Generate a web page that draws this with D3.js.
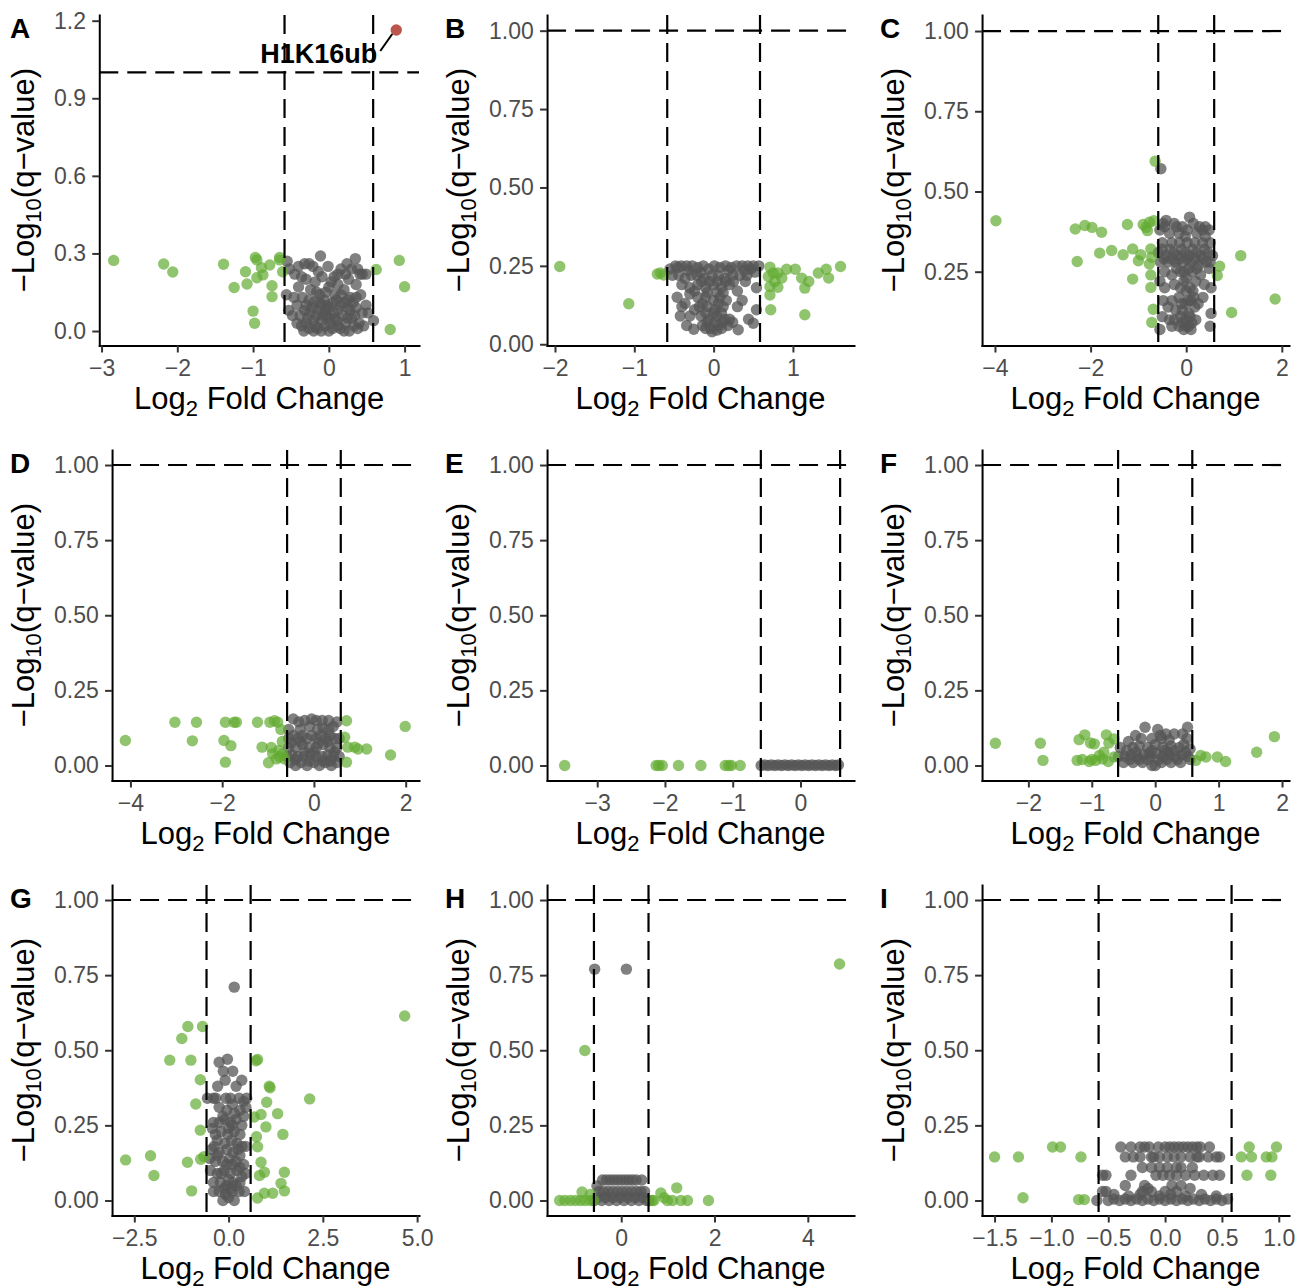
<!DOCTYPE html>
<html>
<head>
<meta charset="utf-8">
<script src="https://cdn.jsdelivr.net/npm/d3@7"></script>
<style>
body { margin: 0; background: #fff; }
svg { display: block; font-family: "Liberation Sans", Arial, Helvetica, sans-serif; }
</style>
</head>
<body>
<svg id="fig" width="1307" height="1287"></svg>
<script>
// threshold lines: |log2 FC| = log2(1.5), -log10(q) = 1
const fcCut = Math.log2(1.5)
const qCut = 1

// ---- panel A ----
const A_ns = [[-0.11,0.29],[0.35,0.28],[-0.55,0.27],[-0.32,0.26],[-0.26,0.26],[-0.21,0.25],[-0.01,0.25],[0.16,0.24],[0.22,0.22],[0.30,0.24],[0.41,0.22],[0.49,0.22],[0.44,0.22],[-0.52,0.24],[-0.45,0.22],[-0.09,0.21],[0.07,0.21],[0.26,0.20],[-0.30,0.20],[-0.18,0.19],[0.12,0.18],[0.36,0.18],[-0.40,0.17],[-0.24,0.16],[0.00,0.17],[0.20,0.16],[0.42,0.14],[-0.56,0.14],[-0.46,0.13],[-0.35,0.13],[-0.12,0.14],[0.08,0.14],[0.28,0.13],[0.49,0.10],[-0.53,0.08],[-0.42,0.10],[-0.30,0.10],[-0.20,0.11],[-0.06,0.12],[0.05,0.11],[0.15,0.10],[0.25,0.09],[0.36,0.09],[0.44,0.07],[-0.38,0.06],[-0.25,0.07],[-0.14,0.08],[-0.04,0.08],[0.06,0.07],[0.18,0.06],[0.30,0.05],[0.40,0.03],[0.59,0.04],[-0.30,0.03],[-0.20,0.04],[-0.10,0.04],[0.00,0.05],[0.10,0.04],[0.22,0.03],[0.33,0.02],[-0.26,0.01],[-0.15,0.01],[-0.05,0.02],[0.05,0.01],[0.15,0.01],[0.27,0.00],[-0.10,0.00],[0.00,0.00],[0.20,0.00],[-0.20,0.00],[0.38,0.01],[-0.33,0.00],[-0.16,0.06],[0.12,0.08],[-0.02,0.10],[0.25,0.12],
	[-0.36,0.02],[-0.28,0.05],[-0.18,0.02],[-0.08,0.06],[0.02,0.03],[0.12,0.02],[0.24,0.05],[0.34,0.06],[-0.32,0.08],[-0.22,0.09],[-0.10,0.10],[0.00,0.09],[0.10,0.12],[0.20,0.11],[0.32,0.11],[-0.26,0.12],[-0.16,0.15],[-0.04,0.15],[0.16,0.14],[0.36,0.13],[-0.42,0.03],[0.46,0.02],[-0.48,0.06],[0.52,0.07],[0.03,0.19],[-0.36,0.21],[0.12,0.22],[-0.14,0.23],[0.38,0.24],[-0.40,0.25],[0.24,0.26],[-0.03,0.06],[0.08,0.05],[-0.12,0.11],[0.28,0.08]]
const A_fc = [[-2.84,0.273],[-2.18,0.259],[-2.06,0.228],[-1.39,0.258],[-1.25,0.168],[-1.10,0.229],[-1.08,0.182],[-0.97,0.284],[-0.95,0.275],[-0.95,0.206],[-1.00,0.077],[-0.98,0.030],[-0.89,0.245],[-0.87,0.217],[-0.78,0.255],[-0.75,0.175],[-0.75,0.133],[-0.65,0.284],[-0.61,0.229],[-0.65,0.275],[0.625,0.238],[0.93,0.273],[1.00,0.171],[0.81,0.006]]
const A_hit = [[0.89,1.164]]
const A_hitNames = ["H1K16ub"]

// ---- panel B ----
const B_ns = [[-0.55,0.24],[-0.48,0.25],[-0.41,0.25],[-0.34,0.25],[-0.27,0.25],[-0.20,0.245],[-0.13,0.25],[-0.06,0.24],[0.01,0.25],[0.08,0.245],[0.15,0.25],[0.22,0.245],[0.29,0.25],[0.36,0.25],[0.43,0.25],[0.50,0.25],[0.57,0.25],[-0.52,0.22],[-0.44,0.22],[-0.36,0.21],[-0.28,0.22],[-0.21,0.22],[-0.12,0.21],[-0.02,0.22],[0.06,0.22],[0.14,0.21],[0.24,0.22],[0.33,0.22],[0.42,0.22],[0.52,0.23],[-0.40,0.19],[-0.30,0.18],[-0.20,0.19],[-0.10,0.18],[0.00,0.19],[0.10,0.18],[0.20,0.19],[0.30,0.17],[0.54,0.18],[-0.30,0.16],[-0.24,0.17],[-0.46,0.15],[-0.20,0.15],[-0.10,0.15],[0.00,0.14],[0.08,0.15],[0.16,0.14],[0.36,0.14],[-0.40,0.12],[-0.18,0.12],[-0.08,0.12],[0.02,0.11],[0.12,0.12],[0.30,0.12],[0.54,0.11],[-0.42,0.09],[-0.30,0.09],[-0.16,0.09],[-0.06,0.08],[0.04,0.09],[0.14,0.08],[0.24,0.07],[0.44,0.08],[-0.34,0.06],[-0.14,0.06],[-0.04,0.05],[0.06,0.06],[0.18,0.06],[0.50,0.067],[-0.25,0.048],[0.04,0.045],[0.31,0.046],[-0.02,0.04],
	[-0.45,0.245],[0.47,0.24],[0.39,0.235],[-0.16,0.23],[0.19,0.235],[-0.32,0.235],[0.05,0.20],[-0.05,0.20],[0.15,0.20],[-0.15,0.20],[0.25,0.20],[0.40,0.20],[-0.08,0.165],[0.04,0.165],[0.12,0.165],[-0.14,0.13],[0.06,0.13],[-0.10,0.10],[0.00,0.10],[0.10,0.10],[-0.08,0.07],[0.02,0.07],[0.12,0.07],[-0.10,0.05],[0.10,0.05],[0.20,0.08],[-0.24,0.11],[-0.36,0.13]]
const B_fc = [[-1.94,0.248],[-1.07,0.129],[-0.71,0.224],[-0.67,0.227],[-0.63,0.221],[0.71,0.246],[0.75,0.227],[0.71,0.184],[0.71,0.157],[0.72,0.110],[0.81,0.227],[0.86,0.211],[0.81,0.182],[0.92,0.239],[1.03,0.239],[1.11,0.211],[1.20,0.200],[1.15,0.179],[1.32,0.227],[1.42,0.239],[1.45,0.211],[1.60,0.248],[1.15,0.094],[0.69,0.216],[0.77,0.200]]

// ---- panel C ----
const C_ns = [[-0.53,0.571],[-0.42,0.41],[-0.25,0.40],[-0.08,0.39],[0.07,0.42],[0.15,0.40],[0.28,0.39],[0.40,0.39],[0.48,0.38],[-0.55,0.38],[-0.48,0.40],[-0.35,0.37],[-0.15,0.37],[0.02,0.38],[0.22,0.37],[0.34,0.38],[-0.02,0.36],[-0.58,0.31],[-0.50,0.32],[-0.42,0.30],[-0.34,0.32],[-0.26,0.31],[-0.18,0.30],[-0.10,0.32],[-0.02,0.31],[0.06,0.30],[0.14,0.32],[0.22,0.31],[0.30,0.30],[0.38,0.32],[0.46,0.31],[0.55,0.30],[-0.54,0.28],[-0.38,0.28],[-0.22,0.28],[-0.06,0.28],[0.10,0.28],[0.26,0.27],[0.42,0.28],[-0.45,0.25],[-0.30,0.24],[-0.12,0.25],[0.00,0.23],[0.12,0.25],[0.30,0.24],[0.48,0.26],[-0.45,0.20],[-0.25,0.21],[-0.05,0.22],[0.08,0.20],[0.20,0.22],[0.38,0.21],[0.52,0.20],[-0.55,0.22],[-0.48,0.16],[-0.30,0.16],[-0.15,0.17],[-0.02,0.15],[0.10,0.16],[0.25,0.15],[0.35,0.17],[-0.38,0.14],[-0.22,0.13],[-0.08,0.13],[0.05,0.12],[0.18,0.14],[0.52,0.12],[-0.50,0.11],[-0.55,0.07],[-0.30,0.08],[-0.15,0.08],[-0.05,0.07],[0.05,0.08],[0.12,0.09],[0.50,0.08],[-0.35,0.10],[-0.02,0.10],[0.20,0.10],
	[-0.50,0.34],[-0.30,0.34],[-0.14,0.34],[0.02,0.34],[0.18,0.34],[0.34,0.34],[0.50,0.34],[-0.46,0.29],[-0.30,0.29],[-0.14,0.29],[0.02,0.29],[0.18,0.29],[0.34,0.29],[0.50,0.28],[-0.20,0.26],[-0.05,0.25],[0.05,0.26],[0.22,0.26],[-0.12,0.20],[0.00,0.19],[0.14,0.19],[-0.10,0.15],[0.04,0.16],[0.16,0.17],[-0.12,0.11],[0.08,0.11],[-0.25,0.10],[0.00,0.08],[-0.08,0.09],[0.10,0.07],[-0.45,0.39],[0.40,0.36],[-0.20,0.39]]
const C_fc = [[-3.98,0.409],[-2.32,0.383],[-2.12,0.394],[-1.97,0.388],[-1.77,0.373],[-2.28,0.282],[-1.81,0.308],[-1.56,0.316],[-1.32,0.303],[-1.23,0.397],[-1.12,0.321],[-1.00,0.284],[-1.12,0.227],[-0.95,0.303],[-0.90,0.397],[-0.84,0.388],[-0.77,0.404],[-0.68,0.409],[-0.81,0.378],[-0.74,0.321],[-0.72,0.295],[-0.77,0.274],[-0.74,0.240],[-0.74,0.201],[-0.69,0.133],[-0.72,0.092],[-0.65,0.594],[0.70,0.267],[0.65,0.238],[1.14,0.300],[0.95,0.123],[1.86,0.165]]

// ---- panel D ----
const D_ns = [[-0.45,0.155],[-0.33,0.145],[-0.20,0.15],[-0.05,0.155],[0.05,0.15],[0.18,0.15],[0.32,0.15],[0.50,0.145],[-0.10,0.13],[0.20,0.125],[0.42,0.13],[-0.55,0.09],[-0.45,0.10],[-0.35,0.09],[-0.25,0.10],[-0.15,0.09],[-0.05,0.10],[0.05,0.09],[0.15,0.10],[0.25,0.09],[0.35,0.10],[0.45,0.09],[0.55,0.09],[-0.55,0.06],[-0.40,0.06],[-0.25,0.07],[-0.10,0.06],[0.05,0.06],[0.20,0.07],[0.35,0.06],[0.50,0.06],[-0.58,0.03],[-0.48,0.035],[-0.35,0.03],[-0.22,0.03],[-0.08,0.035],[0.05,0.03],[0.18,0.03],[0.30,0.035],[0.42,0.03],[0.55,0.03],[-0.52,0.01],[-0.40,0.00],[-0.28,0.01],[-0.15,0.00],[0.00,0.01],[0.12,0.00],[0.25,0.01],[0.38,0.00],[0.50,0.01],
	[-0.50,0.075],[-0.30,0.08],[-0.20,0.045],[0.00,0.045],[0.10,0.075],[0.30,0.08],[0.45,0.045],[-0.40,0.02],[-0.10,0.015],[0.20,0.015],[0.35,0.015],[-0.30,0.12],[0.08,0.12],[0.32,0.12],[-0.55,0.12]]
const D_fc = [[-4.11,0.083],[-3.03,0.144],[-2.56,0.144],[-2.65,0.082],[-1.93,0.144],[-1.74,0.144],[-1.69,0.144],[-1.96,0.083],[-1.81,0.066],[-1.93,0.011],[-1.23,0.144],[-1.13,0.061],[-0.96,0.144],[-0.86,0.149],[-0.79,0.144],[-0.93,0.060],[-0.90,0.039],[-0.99,0.009],[-0.82,0.022],[-0.75,0.028],[-0.69,0.080],[-0.72,0.120],[-0.77,0.050],[-0.68,0.039],[-0.64,0.022],[0.71,0.149],[0.67,0.094],[0.74,0.061],[0.89,0.061],[0.96,0.055],[1.15,0.055],[0.71,0.011],[1.67,0.035],[1.99,0.130]]

// ---- panel E ----
const E_ns = [[-0.58,0.0],[-0.53,0.002],[-0.48,0.0],[-0.43,0.002],[-0.38,0.0],[-0.33,0.002],[-0.28,0.0],[-0.23,0.002],[-0.18,0.0],[-0.13,0.002],[-0.08,0.0],[-0.03,0.002],[0.02,0.0],[0.07,0.002],[0.12,0.0],[0.17,0.002],[0.22,0.0],[0.27,0.002],[0.32,0.0],[0.37,0.002],[0.42,0.0],[0.47,0.002],[0.52,0.0],[0.56,0.002]]
const E_fc = [[-3.48,0.0],[-2.13,0.0],[-2.09,0.0],[-2.04,0.0],[-1.80,0.0],[-1.47,0.0],[-1.11,0.0],[-1.06,0.0],[-1.02,0.0],[-0.89,0.0]]

// ---- panel F ----
const F_ns = [[-0.16,0.127],[0.04,0.12],[0.51,0.127],[0.30,0.105],[0.43,0.105],[0.17,0.105],[-0.31,0.10],[-0.42,0.08],[-0.22,0.09],[-0.05,0.09],[0.10,0.09],[0.22,0.085],[0.50,0.09],[-0.55,0.06],[-0.45,0.05],[-0.35,0.06],[-0.25,0.065],[-0.12,0.06],[0.00,0.07],[0.12,0.06],[0.25,0.065],[0.38,0.06],[0.55,0.055],[-0.58,0.03],[-0.48,0.03],[-0.38,0.035],[-0.28,0.03],[-0.18,0.035],[-0.08,0.03],[0.02,0.04],[0.12,0.03],[0.22,0.035],[0.32,0.03],[0.42,0.035],[0.52,0.03],[-0.50,0.01],[-0.35,0.01],[-0.20,0.01],[-0.05,0.00],[0.10,0.01],[0.25,0.01],[0.40,0.01],[0.55,0.02],[0.00,0.00],[-0.12,0.02],[0.18,0.02],
	[-0.40,0.02],[-0.25,0.02],[-0.10,0.04],[0.05,0.02],[0.20,0.045],[0.35,0.02],[0.48,0.045],[-0.05,0.05],[0.15,0.05],[-0.30,0.045],[0.30,0.05],[0.45,0.07],[0.08,0.10]]
const F_fc = [[-2.52,0.074],[-1.81,0.074],[-1.77,0.017],[-1.20,0.086],[-1.11,0.102],[-1.02,0.075],[-0.96,0.072],[-0.77,0.102],[-0.73,0.075],[-0.81,0.044],[-0.88,0.033],[-0.65,0.088],[-1.23,0.017],[-1.15,0.020],[-1.04,0.013],[-0.94,0.017],[-0.83,0.022],[-0.74,0.013],[-0.65,0.028],[-1.00,0.020],[0.64,0.017],[0.72,0.033],[0.80,0.028],[0.98,0.028],[1.11,0.013],[1.60,0.044],[1.88,0.096]]

// ---- panel G ----
const G_ns = [[0.15,0.71],[-0.25,0.46],[-0.03,0.47],[-0.14,0.43],[0.11,0.43],[0.35,0.40],[-0.09,0.40],[-0.29,0.38],[0.20,0.38],[-0.56,0.34],[-0.34,0.34],[-0.07,0.34],[0.05,0.34],[0.28,0.34],[0.48,0.34],[-0.25,0.31],[0.10,0.32],[0.46,0.31],[0.30,0.30],[-0.15,0.28],[0.40,0.28],[-0.40,0.26],[-0.25,0.26],[-0.10,0.27],[0.05,0.26],[0.20,0.27],[0.35,0.25],[-0.43,0.24],[-0.20,0.23],[-0.02,0.22],[0.15,0.23],[0.30,0.22],[-0.30,0.20],[-0.10,0.19],[0.08,0.20],[0.22,0.19],[0.45,0.18],[-0.45,0.17],[-0.25,0.16],[-0.05,0.17],[0.12,0.16],[0.30,0.15],[-0.50,0.14],[-0.35,0.13],[-0.15,0.13],[0.02,0.14],[0.20,0.13],[0.40,0.12],[-0.48,0.10],[-0.30,0.09],[-0.12,0.10],[0.05,0.09],[0.22,0.10],[0.45,0.09],[-0.40,0.06],[-0.22,0.06],[-0.05,0.05],[0.12,0.06],[0.30,0.06],[-0.40,0.03],[-0.25,0.03],[-0.08,0.02],[0.10,0.03],[0.28,0.03],[0.42,0.03],[-0.15,0.00],[0.00,0.01],[0.15,0.00],
	[-0.35,0.22],[0.00,0.24],[0.10,0.25],[-0.05,0.30],[0.15,0.29],[-0.40,0.34],[0.40,0.33],[-0.38,0.18],[0.35,0.18],[-0.05,0.12],[0.10,0.12],[-0.20,0.09],[0.35,0.08],[-0.30,0.15],[0.25,0.17],[0.00,0.07],[0.20,0.05],[-0.12,0.04],[0.05,0.04],[0.30,0.11]]
const G_fc = [[-2.73,0.135],[-2.07,0.149],[-1.98,0.083],[-1.56,0.467],[-1.24,0.539],[-1.08,0.579],[-0.69,0.579],[-1.00,0.467],[-0.75,0.402],[-0.87,0.321],[-0.75,0.234],[-1.09,0.127],[-0.74,0.137],[-0.65,0.146],[-0.98,0.032],[0.77,0.469],[0.73,0.465],[1.08,0.380],[1.10,0.375],[1.01,0.327],[0.68,0.278],[0.86,0.286],[1.30,0.289],[0.99,0.245],[1.44,0.220],[0.74,0.212],[0.77,0.179],[0.86,0.127],[0.95,0.094],[0.82,0.083],[1.48,0.094],[1.39,0.057],[1.48,0.032],[1.17,0.024],[0.95,0.024],[0.77,0.008],[2.15,0.338],[4.67,0.614]]

// ---- panel H ----
const H_ns = [[-0.57,0.77],[0.11,0.77],[-0.40,0.068],[-0.32,0.068],[-0.24,0.068],[-0.16,0.068],[-0.08,0.068],[0.00,0.068],[0.08,0.068],[0.16,0.068],[0.24,0.068],[0.32,0.068],[0.44,0.068],[-0.52,0.048],[-0.48,0.03],[-0.38,0.03],[-0.28,0.03],[-0.18,0.03],[-0.08,0.03],[0.02,0.03],[0.12,0.03],[0.22,0.03],[0.32,0.03],[0.42,0.03],[0.50,0.03],[-0.58,0.0],[-0.50,0.01],[-0.42,0.0],[-0.34,0.01],[-0.26,0.0],[-0.18,0.01],[-0.10,0.0],[-0.02,0.01],[0.06,0.0],[0.14,0.01],[0.22,0.0],[0.30,0.01],[0.38,0.0],[0.46,0.01],[0.54,0.0],[0.60,0.0]]
const H_fc = [[4.68,0.787],[-0.78,0.499],[-1.32,0.0],[-1.21,0.0],[-1.09,0.0],[-0.98,0.0],[-0.87,0.0],[-0.77,0.0],[-0.66,0.0],[-0.59,0.0],[-0.84,0.028],[-0.66,0.02],[0.66,0.0],[0.70,0.0],[0.85,0.025],[0.92,0.009],[0.99,0.0],[1.10,0.0],[1.19,0.042],[1.28,0.0],[1.42,0.0],[1.87,0.0]]

// ---- panel I ----
const I_ns = [[-0.39,0.178],[-0.30,0.178],[-0.22,0.178],[-0.14,0.178],[-0.06,0.178],[0.00,0.178],[0.04,0.178],[0.08,0.178],[0.12,0.178],[0.16,0.178],[0.20,0.178],[0.24,0.178],[0.31,0.178],[0.39,0.178],[-0.35,0.145],[-0.28,0.145],[-0.22,0.145],[-0.12,0.145],[-0.05,0.145],[0.02,0.145],[0.08,0.145],[0.14,0.145],[0.22,0.145],[0.28,0.145],[0.38,0.145],[0.45,0.145],[0.48,0.145],[-0.20,0.11],[-0.12,0.11],[-0.05,0.11],[0.02,0.11],[0.14,0.11],[-0.55,0.084],[-0.52,0.084],[-0.08,0.084],[-0.02,0.084],[0.04,0.084],[0.10,0.084],[0.18,0.084],[0.26,0.084],[0.34,0.084],[0.42,0.084],[0.48,0.084],[-0.35,0.05],[-0.18,0.05],[0.14,0.05],[-0.55,0.03],[-0.52,0.03],[-0.20,0.03],[-0.12,0.03],[0.00,0.03],[0.10,0.03],[-0.60,0.0],[-0.50,0.0],[-0.45,0.005],[-0.40,0.0],[-0.35,0.005],[-0.30,0.0],[-0.25,0.005],[-0.20,0.0],[-0.15,0.005],[-0.10,0.0],[-0.05,0.005],[0.00,0.0],[0.05,0.005],[0.10,0.0],[0.15,0.005],[0.20,0.0],[0.25,0.005],[0.30,0.0],[0.35,0.005],[0.40,0.0],[0.45,0.005],[0.50,0.0],[0.55,0.005],
	[-0.45,0.02],[-0.32,0.015],[-0.22,0.02],[-0.05,0.015],[0.05,0.02],[0.18,0.015],[0.32,0.02],[0.45,0.015],[-0.15,0.04],[0.22,0.04],[-0.10,0.145],[0.30,0.145],[-0.18,0.178],[0.28,0.178],[0.10,0.11],[0.24,0.11],[-0.30,0.084],[0.06,0.05]]
const I_fc = [[-1.50,0.145],[-1.29,0.145],[-1.25,0.009],[-0.99,0.178],[-0.92,0.178],[-0.74,0.145],[-0.76,0.003],[-0.71,0.003],[0.67,0.145],[0.74,0.178],[0.76,0.145],[0.72,0.084],[0.89,0.145],[0.94,0.145],[0.98,0.178],[0.93,0.084]]

// tick marks per panel
const ticksA_x = [-3, -2, -1, 0, 1],  ticksA_y = [0, 0.3, 0.6, 0.9, 1.2]
const ticksB_x = [-2, -1, 0, 1]
const ticksC_x = [-4, -2, 0, 2]
const ticksD_x = [-4, -2, 0, 2]
const ticksE_x = [-3, -2, -1, 0]
const ticksF_x = [-2, -1, 0, 1, 2]
const ticksG_x = [-2.5, 0, 2.5, 5]
const ticksH_x = [0, 2, 4]
const ticksI_x = [-1.5, -1, -0.5, 0, 0.5, 1]
const ticksQ = [0, 0.25, 0.5, 0.75, 1]

const panels = [
	{id: "A", ns: A_ns, fc: A_fc, hit: A_hit, names: A_hitNames, xd: [-3.03, 1.19], yd: [-0.056, 1.222], xt: ticksA_x, yt: ticksA_y, xf: "d", yf: ".1f"},
	{id: "B", ns: B_ns, fc: B_fc, xd: [-2.10, 1.77], yd: [-0.004, 1.05], xt: ticksB_x, yt: ticksQ, xf: "d", yf: ".2f"},
	{id: "C", ns: C_ns, fc: C_fc, xd: [-4.27, 2.15], yd: [0.02, 1.05], xt: ticksC_x, yt: ticksQ.slice(1), xf: "d", yf: ".2f"},
	{id: "D", ns: D_ns, fc: D_fc, xd: [-4.40, 2.29], yd: [-0.05, 1.05], xt: ticksD_x, yt: ticksQ, xf: "d", yf: ".2f"},
	{id: "E", ns: E_ns, fc: E_fc, xd: [-3.74, 0.79], yd: [-0.05, 1.05], xt: ticksE_x, yt: ticksQ, xf: "d", yf: ".2f"},
	{id: "F", ns: F_ns, fc: F_fc, xd: [-2.73, 2.11], yd: [-0.05, 1.05], xt: ticksF_x, yt: ticksQ, xf: "d", yf: ".2f"},
	{id: "G", ns: G_ns, fc: G_fc, xd: [-3.09, 5.05], yd: [-0.05, 1.05], xt: ticksG_x, yt: ticksQ, xf: ".1f", yf: ".2f"},
	{id: "H", ns: H_ns, fc: H_fc, xd: [-1.59, 4.99], yd: [-0.05, 1.05], xt: ticksH_x, yt: ticksQ, xf: "d", yf: ".2f"},
	{id: "I", ns: I_ns, fc: I_fc, xd: [-1.61, 1.09], yd: [-0.05, 1.05], xt: ticksI_x, yt: ticksQ, xf: ".1f", yf: ".2f"}
]

const svg = d3.select("#fig")
const cell = 435
const tickFont = 23
const titleFont = 31
const dash = "19,9"
const ptR = 5.7

function drawPanel(p, i){
	const ox = (i % 3) * cell
	const oy = Math.floor(i / 3) * cell
	const g = svg.append("g").attr("transform", `translate(${ox},${oy})`)

	// left margin follows widest y tick label, like ggplot
	const yfmt = d3.format(p.yf)
	const probe = g.append("text").attr("font-size", tickFont)
	let w = 0
	p.yt.forEach(t => { probe.text(yfmt(t)); w = Math.max(w, probe.node().getComputedTextLength()) })
	probe.remove()

	const left = 54 + w + 13.3, right = 419, top = 15, bottom = 345.5
	const x = d3.scaleLinear().domain(p.xd).range([left, right])
	const y = d3.scaleLinear().domain(p.yd).range([bottom, top])

	// points
	g.append("g").selectAll("circle").data(p.ns).join("circle")
		.attr("cx", d => x(d[0])).attr("cy", d => y(d[1])).attr("r", ptR)
		.attr("fill", "#555555").attr("fill-opacity", 0.75)
	g.append("g").selectAll("circle").data(p.fc).join("circle")
		.attr("cx", d => x(d[0])).attr("cy", d => y(d[1])).attr("r", ptR)
		.attr("fill", "#62ab30").attr("fill-opacity", 0.7)
	if(p.hit){
		g.append("g").selectAll("circle").data(p.hit).join("circle")
			.attr("cx", d => x(d[0])).attr("cy", d => y(d[1])).attr("r", ptR)
			.attr("fill", "#b5443a").attr("fill-opacity", 0.9)
	}

	// threshold lines on top of points
	const lines = g.append("g").attr("stroke", "#000").attr("stroke-width", 2.2).attr("stroke-dasharray", dash)
	lines.append("line").attr("x1", left).attr("x2", right).attr("y1", y(qCut)).attr("y2", y(qCut))
	;[-fcCut, fcCut].forEach(v => {
		lines.append("line").attr("x1", x(v)).attr("x2", x(v)).attr("y1", top).attr("y2", bottom)
	})

	// repelled label for hits
	if(p.hit){
		p.hit.forEach((d, k) => {
			const px = x(d[0]), py = y(d[1])
			g.append("line").attr("x1", px - 16).attr("y1", py + 21).attr("x2", px - 4).attr("y2", py + 4)
				.attr("stroke", "#000").attr("stroke-width", 2)
			g.append("text").attr("x", px - 19).attr("y", py + 33)
				.attr("text-anchor", "end").attr("font-weight", "bold").attr("font-size", 27)
				.attr("fill", "#000").text(p.names[k])
		})
	}

	// axes
	const xAxis = d3.axisBottom(x).tickValues(p.xt).tickFormat(d3.format(p.xf))
		.tickSize(7).tickPadding(7.5).tickSizeOuter(0)
	const yAxis = d3.axisLeft(y).tickValues(p.yt).tickFormat(yfmt)
		.tickSize(7).tickPadding(6.3).tickSizeOuter(0)
	const gx = g.append("g").attr("transform", `translate(0,${bottom})`).call(xAxis)
	const gy = g.append("g").attr("transform", `translate(${left},0)`).call(yAxis)
	;[gx, gy].forEach(a => {
		a.attr("font-family", null).attr("font-size", null)
		a.select(".domain").attr("stroke", "#000").attr("stroke-width", 2).attr("stroke-linecap", "square")
		a.selectAll(".tick line").attr("stroke", "#333").attr("stroke-width", 2)
		a.selectAll(".tick text").attr("fill", "#4d4d4d").attr("font-size", tickFont)
	})

	// axis titles
	const xt = g.append("text").attr("x", (left + right) / 2).attr("y", 409)
		.attr("text-anchor", "middle").attr("font-size", titleFont).attr("fill", "#000")
	xt.append("tspan").text("Log")
	xt.append("tspan").attr("font-size", 22).attr("dy", 7).text("2")
	xt.append("tspan").attr("dy", -7).text(" Fold Change")

	const yt = g.append("text").attr("transform", `translate(34,${(top + bottom) / 2}) rotate(-90)`)
		.attr("text-anchor", "middle").attr("font-size", titleFont).attr("fill", "#000")
	yt.append("tspan").text("\u2212Log")
	yt.append("tspan").attr("font-size", 22).attr("dy", 7).text("10")
	yt.append("tspan").attr("dy", -7).text("(q\u2212value)")

	// panel letter
	g.append("text").attr("x", 10).attr("y", 38).attr("font-weight", "bold")
		.attr("font-size", 28).attr("fill", "#000").text(p.id)
}

panels.forEach(drawPanel)
</script>
</body>
</html>
